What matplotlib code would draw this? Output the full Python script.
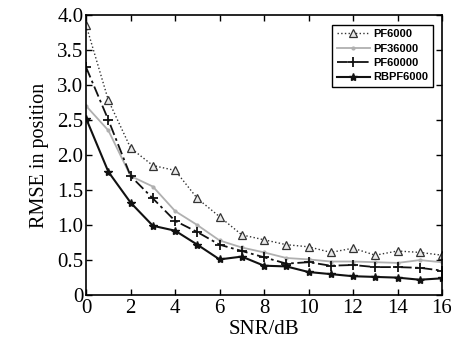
import numpy as np
import matplotlib.pyplot as plt

snr = np.arange(0, 17)
pf6000 = [3.85, 2.78, 2.10, 1.85, 1.78, 1.38, 1.12, 0.86, 0.79, 0.72, 0.69, 0.61, 0.67, 0.57, 0.63, 0.61, 0.57]
pf36000 = [2.70, 2.35, 1.70, 1.55, 1.20, 1.00, 0.78, 0.68, 0.61, 0.53, 0.51, 0.48, 0.48, 0.47, 0.46, 0.50, 0.47]
pf60000 = [3.25, 2.50, 1.70, 1.38, 1.06, 0.90, 0.72, 0.63, 0.54, 0.45, 0.47, 0.42, 0.43, 0.40, 0.40, 0.39, 0.35]
rbpf6000 = [2.52, 1.76, 1.32, 0.99, 0.92, 0.72, 0.51, 0.55, 0.42, 0.41, 0.33, 0.30, 0.27, 0.26, 0.25, 0.22, 0.24]

yticks = [0, 0.5, 1.0, 1.5, 2.0, 2.5, 3.0, 3.5, 4.0]
ytick_labels = ['0', '0.5', '1.0', '1.5', '2.0', '2.5', '3.0', '3.5', '4.0']
xticks = [0, 2, 4, 6, 8, 10, 12, 14, 16]

plt.rcParams['font.family'] = 'Liberation Serif'

fig = plt.figure(figsize=(4.51, 3.46), dpi=100)
ax = fig.add_axes([0.191, 0.147, 0.789, 0.810])

ax.plot(snr, pf6000, ':', color='#333333', lw=1.0, marker='^', ms=5.5,
        mfc='#e8e8e8', mec='#333333', mew=0.9, label='PF6000')
ax.plot(snr, pf36000, '-', color='#b0b0b0', lw=1.3, marker='.', ms=4,
        label='PF36000')
ax.plot(snr, pf60000, '-.', color='#111111', lw=1.3, marker='+', ms=7,
        mew=1.3, dashes=(6, 2, 1.5, 2), label='PF60000')
ax.plot(snr, rbpf6000, '-', color='#111111', lw=1.5, marker='*', ms=6,
        label='RBPF6000')

ax.set_xlim(0, 16)
ax.set_ylim(0, 4.0)
ax.set_xticks(xticks)
ax.set_yticks(yticks)
ax.set_yticklabels(ytick_labels)
ax.tick_params(direction='in', top=True, right=True, labelsize=15, length=4, width=1)
ax.tick_params(axis='x', pad=3)
ax.tick_params(axis='y', pad=2)
for s in ax.spines.values():
    s.set_linewidth(1.2)

ax.set_xlabel('SNR/dB', fontsize=15, labelpad=1)
ax.set_ylabel('RMSE in position', fontsize=14.5, labelpad=6)

leg = ax.legend(loc='upper right', prop={'family': 'Liberation Sans', 'size': 8, 'weight': 'bold'},
                fancybox=False, edgecolor='black', framealpha=1, handlelength=3.0,
                labelspacing=0.4, borderpad=0.4, handletextpad=0.3, numpoints=1,
                bbox_to_anchor=(0.99, 0.985))
leg.get_frame().set_linewidth(1.0)

fig.savefig('out.png', dpi=100)
